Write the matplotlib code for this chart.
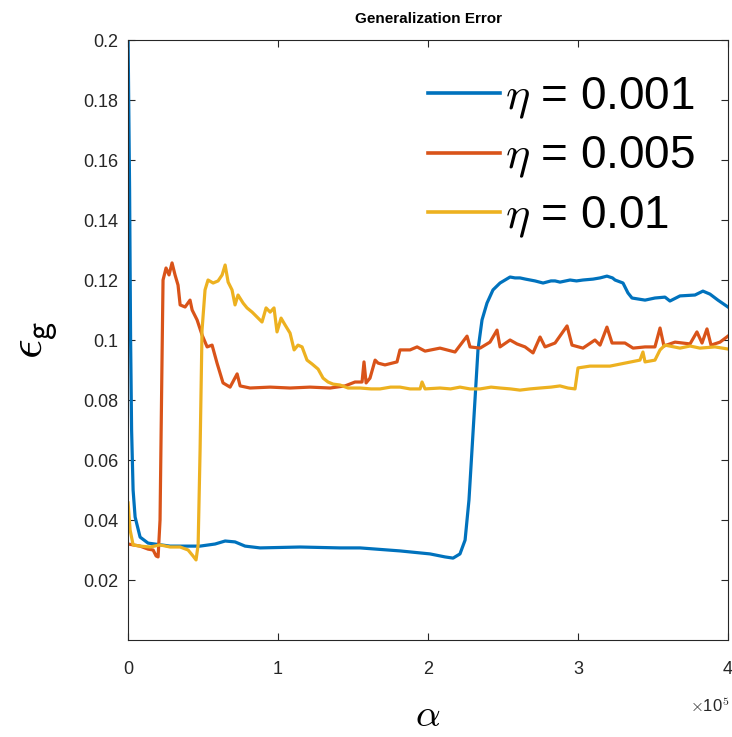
import numpy as np
import matplotlib
matplotlib.use('Agg')
import matplotlib.pyplot as plt

plt.rcParams['font.family'] = ['Liberation Sans', 'DejaVu Sans']
plt.rcParams['mathtext.fontset'] = 'cm'

# alpha in units of 1e5, generalization error eps_g
alpha_001 = [0, 0.01, 0.0167, 0.0233, 0.0333, 0.0467, 0.08, 0.133, 0.28, 0.48,
             0.58, 0.647, 0.713, 0.78, 0.88, 1.147, 1.413, 1.547, 1.813, 2.013,
             2.113, 2.167, 2.213, 2.247, 2.273, 2.293, 2.313, 2.333, 2.36, 2.393,
             2.433, 2.48, 2.547, 2.58, 2.613, 2.65, 2.713, 2.767, 2.82, 2.847,
             2.88, 2.947, 2.99, 3.033, 3.1, 3.147, 3.193, 3.23, 3.247, 3.3,
             3.333, 3.36, 3.447, 3.513, 3.58, 3.613, 3.68,
             3.78, 3.833, 3.88, 3.933, 4.0]
err_001 = [0.2, 0.15, 0.1, 0.07, 0.05, 0.041, 0.0343, 0.0323, 0.0313, 0.0313,
           0.032, 0.033, 0.0327, 0.0313, 0.0307, 0.031, 0.0307, 0.0307, 0.0297, 0.0287,
           0.0277, 0.0273, 0.0287, 0.0333, 0.0467, 0.0633, 0.08, 0.0967, 0.1067, 0.1123,
           0.1167, 0.119, 0.121, 0.1207, 0.1207, 0.1203, 0.1197, 0.119, 0.1197, 0.1197,
           0.1193, 0.12, 0.1197, 0.12, 0.1203, 0.1207, 0.1213, 0.1207, 0.12, 0.119,
           0.1157, 0.114, 0.1133, 0.114, 0.1143, 0.113, 0.1147,
           0.115, 0.1163, 0.1153, 0.1133, 0.111]

alpha_005 = [0, 0.08, 0.133, 0.167, 0.187, 0.2, 0.213, 0.227, 0.233, 0.253,
             0.273, 0.293, 0.313, 0.333, 0.347, 0.38, 0.413, 0.427, 0.46, 0.493,
             0.527, 0.56, 0.593, 0.633, 0.68, 0.727, 0.747, 0.813, 0.947, 1.08,
             1.213, 1.347, 1.447, 1.513, 1.56, 1.573, 1.587, 1.613, 1.647, 1.667,
             1.713, 1.793, 1.813, 1.88, 1.927, 1.98, 2.08, 2.18, 2.26, 2.28,
             2.347, 2.413, 2.46, 2.48, 2.547, 2.593, 2.647, 2.7, 2.747, 2.78,
             2.847, 2.927, 2.96, 3.033, 3.113, 3.147, 3.193, 3.227, 3.313, 3.367,
             3.447, 3.513, 3.547, 3.573, 3.647, 3.747, 3.793, 3.827, 3.86, 3.887,
             3.947, 4.0]
err_005 = [0.032, 0.0313, 0.0303, 0.030, 0.028, 0.0277, 0.04, 0.0967, 0.12, 0.124,
           0.1217, 0.1257, 0.1217, 0.1183, 0.1117, 0.111, 0.1133, 0.11, 0.1067, 0.1017,
           0.0977, 0.0983, 0.0923, 0.0857, 0.0843, 0.0887, 0.0847, 0.084, 0.0843, 0.084,
           0.0843, 0.084, 0.0847, 0.086, 0.086, 0.0927, 0.0857, 0.0873, 0.0933, 0.0923,
           0.0917, 0.0927, 0.0967, 0.0967, 0.0977, 0.0963, 0.0973, 0.096, 0.1013, 0.0977,
           0.0973, 0.0993, 0.1033, 0.0977, 0.1, 0.0987, 0.0977, 0.0957, 0.101, 0.0977,
           0.099, 0.1047, 0.0983, 0.0973, 0.1, 0.0983, 0.1043, 0.099, 0.099, 0.0973,
           0.0977, 0.0977, 0.104, 0.098, 0.0993, 0.0987, 0.1027, 0.099, 0.1037, 0.0983,
           0.0993, 0.1013]

alpha_01 = [0, 0.0133, 0.0333, 0.08, 0.147, 0.213, 0.28, 0.347, 0.4, 0.433,
            0.453, 0.467, 0.48, 0.493, 0.513, 0.533, 0.567, 0.6, 0.627, 0.647,
            0.667, 0.693, 0.713, 0.733, 0.767, 0.793, 0.827, 0.867, 0.893, 0.92,
            0.947, 0.973, 0.993, 1.02, 1.047, 1.08, 1.107, 1.133, 1.16, 1.193,
            1.227, 1.267, 1.3, 1.333, 1.367, 1.413, 1.467, 1.547, 1.62, 1.68,
            1.75, 1.813, 1.88, 1.947, 1.96, 1.98, 2.08, 2.15, 2.213, 2.28,
            2.347, 2.42, 2.48, 2.55, 2.613, 2.68, 2.747, 2.82, 2.88, 2.933,
            2.98, 3.0, 3.08, 3.213, 3.313, 3.413, 3.433, 3.447, 3.513, 3.547,
            3.58, 3.68, 3.747, 3.813, 3.913, 4.0]
err_01 = [0.0457, 0.0367, 0.0317, 0.0313, 0.031, 0.0317, 0.031, 0.031, 0.030, 0.028,
          0.0267, 0.0317, 0.0633, 0.1033, 0.1167, 0.12, 0.119, 0.1197, 0.1217, 0.125,
          0.1193, 0.1167, 0.1117, 0.115, 0.1123, 0.1107, 0.1093, 0.1073, 0.106, 0.1107,
          0.1093, 0.1107, 0.1027, 0.1073, 0.105, 0.1023, 0.0967, 0.0983, 0.0977, 0.0933,
          0.092, 0.0903, 0.0873, 0.086, 0.0853, 0.085, 0.084, 0.084, 0.0837, 0.0837,
          0.0843, 0.0843, 0.0837, 0.0837, 0.086, 0.0837, 0.084, 0.0837, 0.0843, 0.0837,
          0.0837, 0.0843, 0.084, 0.0837, 0.0833, 0.0837, 0.084, 0.0843, 0.0847, 0.084,
          0.0837, 0.0907, 0.0913, 0.0913, 0.0923, 0.0933, 0.096, 0.0927, 0.0933, 0.0967,
          0.0983, 0.0973, 0.098, 0.0973, 0.0977, 0.097]

labels = [r'$\eta$ = 0.001', r'$\eta$ = 0.005', r'$\eta$ = 0.01']
colors = ['#0072BD', '#D95319', '#EDB120']
x_ticks = [0, 1, 2, 3, 4]
y_ticks = [0.02, 0.04, 0.06, 0.08, 0.1, 0.12, 0.14, 0.16, 0.18, 0.2]
y_ticklabels = ['0.02', '0.04', '0.06', '0.08', '0.1', '0.12', '0.14', '0.16', '0.18', '0.2']

fig = plt.figure(figsize=(7.32, 7.37), dpi=100)
ax = fig.add_axes([0.175, 0.1316, 0.8195, 0.8141])

series = [(alpha_001, err_001), (alpha_005, err_005), (alpha_01, err_01)]
for (a, e), lab, c in zip(series, labels, colors):
    ax.plot(a, e, color=c, lw=2.3, label=lab, solid_joinstyle='round')

ax.set_xlim(0, 4)
ax.set_ylim(0, 0.2)
ax.set_xticks(x_ticks)
ax.set_yticks(y_ticks)
ax.set_yticklabels(y_ticklabels)

ax.tick_params(direction='in', top=True, right=True, length=5, width=0.8,
               colors='#262626', labelsize=13)
ax.tick_params(axis='y', pad=7)
ax.tick_params(axis='x', pad=15)
for s in ax.spines.values():
    s.set_color('#262626')
    s.set_linewidth(0.8)

# axis exponent, as drawn by MATLAB under the last tick
ax.text(1.003, -0.12, r'$\times$10$^{\mathsf{5}}$', transform=ax.transAxes,
        ha='right', va='baseline', fontsize=12, color='#262626')

ax.set_title('Generalization Error', fontsize=11, fontweight='bold', pad=12)
ax.set_xlabel(r'$\alpha$', fontsize=28)
ax.xaxis.set_label_coords(0.5, -0.097)
ax.set_ylabel(r'$\epsilon_\mathsf{g}$', fontsize=35)
ax.yaxis.set_label_coords(-0.115, 0.5)

leg = ax.legend(loc='upper right', bbox_to_anchor=(0.975, 0.972), frameon=False,
                fontsize=33, handlelength=1.57, handletextpad=0.1, labelspacing=0.3,
                borderaxespad=0)
for h in leg.get_lines():
    h.set_linewidth(2.6)

fig.savefig('out.png', dpi=100)
